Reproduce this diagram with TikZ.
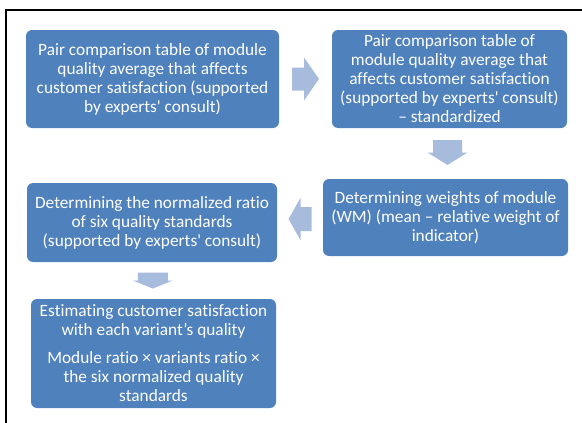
\documentclass[tikz,border=0pt]{standalone}
\usepackage{fontspec}
\setmainfont{Carlito}[Ligatures={TeXOff,NoCommon}]
\usetikzlibrary{calc}
\definecolor{boxblue}{HTML}{4F81BD}
\definecolor{arrowblue}{HTML}{A7BBDC}
\newcommand\blockarrow[6]{%
  \fill[arrowblue, shift={#1}, rotate=#2]
    (-#3,-#5) -- ({#3-#4},-#5) -- ({#3-#4},-#6) -- (#3,0) --
    ({#3-#4},#6) -- ({#3-#4},#5) -- (-#3,#5) -- cycle;}
\begin{document}
\begin{tikzpicture}[x=1pt,y=1pt,
  box/.style={fill=boxblue, rounded corners=6pt, text=white, align=center,
    inner sep=0pt, font=\fontsize{17.3}{19}\selectfont},
  frameline/.style={line width=2.2pt, black}]
\useasboundingbox (0,0) rectangle (582,-423);
\draw[frameline] (6,-423) -- (6,-10) -- (582,-10);

\node[box, minimum width=253pt, minimum height=98pt] (b1) at (152.5,-79)
  {Pair comparison table of module\\ quality average that affects\\ customer satisfaction (supported\\ by experts' consult)};
\node[box, minimum width=235pt, minimum height=98pt] (b2) at (449.5,-79)
  {Pair comparison table of\\ module quality average that\\ affects customer satisfaction\\ (supported by experts' consult)\\ – standardized};
\node[box, minimum width=245pt, minimum height=77pt] (b3) at (445.5,-217.5)
  {Determining weights of module\\ (WM) (mean – relative weight of\\ indicator)};
\node[box, minimum width=250pt, minimum height=79pt] (b4) at (152,-222.5)
  {Determining the normalized ratio\\ of six quality standards\\ (supported by experts' consult)};
\node[box, minimum width=245pt, minimum height=109pt] (b5) at (153.5,-353.5)
  {Estimating customer satisfaction\\ with each variant’s quality\\[9pt] Module ratio × variants ratio ×\\ the six normalized quality\\ standards};

\blockarrow{($(b1.east)!0.5!(b2.west)$)}{0}{13.5}{15}{11.5}{21.5}
\blockarrow{($(b2.south)!0.5!(b3.north)+(0,1)$)}{-90}{12.5}{12.5}{14.5}{20}
\blockarrow{($(b3.west)!0.5!(b4.east)+(0,1)$)}{180}{11.5}{12}{12}{21}
\blockarrow{($(b4.south)!0.5!(b5.north)$)}{-90}{8}{8}{15}{20}
\end{tikzpicture}
\end{document}
